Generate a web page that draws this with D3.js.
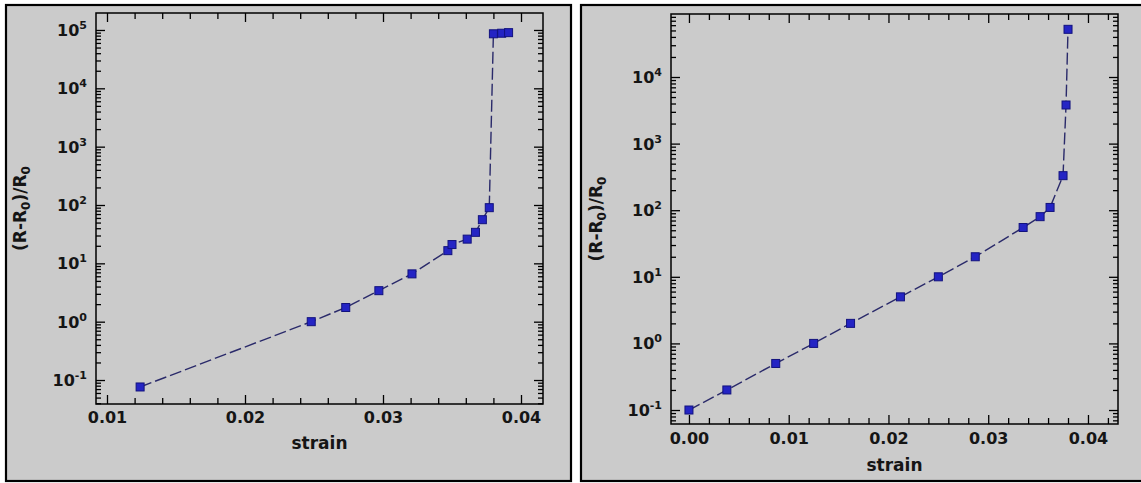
<!DOCTYPE html>
<html>
<head>
<meta charset="utf-8">
<script src="https://cdn.jsdelivr.net/npm/d3@7"></script>
<style>
  body { margin: 0; background: #ffffff; }
  svg { display: block; }
  text { font-family: "DejaVu Sans", sans-serif; font-weight: bold; fill: #151515; }
</style>
</head>
<body>
<svg id="chart" width="1141" height="483"></svg>
<script>
// Left test: resistance change vs. strain (starts at 1.2 % strain)
const leftStrain = [0.0124, 0.0248, 0.0273, 0.0297, 0.0321, 0.0347, 0.0350, 0.0361, 0.0367, 0.0372, 0.0377, 0.0380, 0.0386, 0.0391];
const leftRatio  = [0.076, 1.0, 1.75, 3.4, 6.6, 16.5, 21, 26, 34, 56, 90, 86000, 88000, 90000];

// Right test: resistance change vs. strain (starts at zero strain)
const rightStrain = [0.0000, 0.0038, 0.0087, 0.0125, 0.0162, 0.0212, 0.0250, 0.0287, 0.0335, 0.0352, 0.0362, 0.0375, 0.0378, 0.0380];
const rightRatio  = [0.1, 0.2, 0.5, 1.0, 2.0, 5.0, 10, 20, 55, 80, 110, 330, 3800, 52000];

// Axis ticks
const leftXTicks   = [0.01, 0.02, 0.03, 0.04];
const leftXLabels  = ["0.01", "0.02", "0.03", "0.04"];
const rightXTicks  = [0.00, 0.01, 0.02, 0.03, 0.04];
const rightXLabels = ["0.00", "0.01", "0.02", "0.03", "0.04"];
const leftDecades  = [-1, 0, 1, 2, 3, 4, 5];
const rightDecades = [-1, 0, 1, 2, 3, 4];
const xMinorStep = 0.002;
const xTitle = "strain";

const svg = d3.select("#chart");

const panels = [
  {
    box: [6, 5, 565, 476],
    plot: { left: 96, right: 543, top: 13, bottom: 404 },
    xDomain: [0.009203, 0.041594],
    yDomain: [Math.pow(10, -1.411), Math.pow(10, 5.291)],
    strain: leftStrain, ratio: leftRatio,
    xTicks: leftXTicks, xLabels: leftXLabels, decades: leftDecades,
    labelPad: 8, xTitleY: 449, yTitleX: 26
  },
  {
    box: [581, 5, 565, 476],
    plot: { left: 671, right: 1118, top: 14, bottom: 424 },
    xDomain: [-0.0018, 0.04301],
    yDomain: [Math.pow(10, -1.21), Math.pow(10, 4.946)],
    strain: rightStrain, ratio: rightRatio,
    xTicks: rightXTicks, xLabels: rightXLabels, decades: rightDecades,
    labelPad: 9, xTitleY: 471, yTitleX: 602
  }
];

function drawPanel(p) {
  const g = svg.append("g");
  const { left, right, top, bottom } = p.plot;

  // Panel frame
  g.append("rect")
    .attr("x", p.box[0]).attr("y", p.box[1])
    .attr("width", p.box[2]).attr("height", p.box[3])
    .attr("fill", "#cbcbcb").attr("stroke", "#000").attr("stroke-width", 2.2);

  const x = d3.scaleLinear().domain(p.xDomain).range([left, right]);
  const y = d3.scaleLog().domain(p.yDomain).range([bottom, top]);

  // Minor tick values
  const [x0, x1] = p.xDomain;
  const xMinor = d3.range(Math.ceil(x0 / xMinorStep), Math.floor(x1 / xMinorStep) + 1)
    .map(i => +(i * xMinorStep).toFixed(4))
    .filter(v => !p.xTicks.some(t => Math.abs(t - v) < 1e-9));
  const yMinor = [];
  const lo = Math.floor(Math.log10(p.yDomain[0])), hi = Math.ceil(Math.log10(p.yDomain[1]));
  for (let d = lo; d <= hi; d++) {
    for (let m = 2; m <= 9; m++) {
      const v = m * Math.pow(10, d);
      if (v >= p.yDomain[0] && v <= p.yDomain[1]) yMinor.push(v);
    }
  }
  const yMajor = p.decades.map(d => Math.pow(10, d));

  function styleAxis(sel) {
    sel.select(".domain").remove();
    sel.selectAll(".tick line").attr("stroke", "#000").attr("stroke-width", 1.3);
  }

  // Bottom axis (inward ticks, labelled)
  g.append("g").attr("transform", `translate(0,${bottom})`)
    .call(d3.axisBottom(x).tickValues(p.xTicks).tickSizeInner(-9).tickSizeOuter(0)
      .tickPadding(p.labelPad).tickFormat((d, i) => p.xLabels[i]))
    .call(styleAxis)
    .call(s => s.selectAll("text").attr("font-size", 16).attr("font-family", null).attr("fill", "#151515"));
  g.append("g").attr("transform", `translate(0,${bottom})`)
    .call(d3.axisBottom(x).tickValues(xMinor).tickSizeInner(-6).tickSizeOuter(0).tickFormat(""))
    .call(styleAxis);

  // Top axis (inward ticks, no labels)
  g.append("g").attr("transform", `translate(0,${top})`)
    .call(d3.axisTop(x).tickValues(p.xTicks).tickSizeInner(-9).tickSizeOuter(0).tickFormat(""))
    .call(styleAxis);
  g.append("g").attr("transform", `translate(0,${top})`)
    .call(d3.axisTop(x).tickValues(xMinor).tickSizeInner(-6).tickSizeOuter(0).tickFormat(""))
    .call(styleAxis);

  // Left and right log axes (inward ticks)
  [[d3.axisLeft, left], [d3.axisRight, right]].forEach(([axisFn, pos]) => {
    g.append("g").attr("transform", `translate(${pos},0)`)
      .call(axisFn(y).tickValues(yMajor).tickSizeInner(-9).tickSizeOuter(0).tickFormat(""))
      .call(styleAxis);
    g.append("g").attr("transform", `translate(${pos},0)`)
      .call(axisFn(y).tickValues(yMinor).tickSizeInner(-5).tickSizeOuter(0).tickFormat(""))
      .call(styleAxis);
  });

  // Plot frame
  g.append("rect")
    .attr("x", left).attr("y", top)
    .attr("width", right - left).attr("height", bottom - top)
    .attr("fill", "none").attr("stroke", "#000").attr("stroke-width", 1.5);

  // Decade labels: 10 with superscript exponent
  const yl = g.selectAll(".ylab").data(p.decades).join("text")
    .attr("class", "ylab")
    .attr("x", left - 9)
    .attr("y", d => y(Math.pow(10, d)) + 6)
    .attr("text-anchor", "end")
    .attr("font-size", 16);
  yl.append("tspan").text("10");
  yl.append("tspan").attr("dy", -7).attr("font-size", 11).text(d => String(d));

  // Axis titles
  g.append("text")
    .attr("x", (left + right) / 2).attr("y", p.xTitleY)
    .attr("text-anchor", "middle").attr("font-size", 17)
    .text(xTitle);

  const yt = g.append("text")
    .attr("transform", `translate(${p.yTitleX},${(top + bottom) / 2}) rotate(-90)`)
    .attr("text-anchor", "middle").attr("font-size", 17);
  yt.append("tspan").text("(R-R");
  yt.append("tspan").attr("font-size", 12).attr("dy", 4).text("0");
  yt.append("tspan").attr("dy", -4).text(")/R");
  yt.append("tspan").attr("font-size", 12).attr("dy", 4).text("0");

  // Data: dashed connecting line and square markers
  const pts = p.strain.map((s, i) => [s, p.ratio[i]]);
  g.append("path")
    .datum(pts)
    .attr("fill", "none")
    .attr("stroke", "#2a2a6a")
    .attr("stroke-width", 1.4)
    .attr("stroke-dasharray", "12,4")
    .attr("d", d3.line().x(d => x(d[0])).y(d => y(d[1])));

  const sz = 8;
  g.selectAll(".pt").data(pts).join("rect")
    .attr("class", "pt")
    .attr("x", d => x(d[0]) - sz / 2)
    .attr("y", d => y(d[1]) - sz / 2)
    .attr("width", sz).attr("height", sz)
    .attr("fill", "#2424c4")
    .attr("stroke", "#12127e").attr("stroke-width", 1);
}

panels.forEach(drawPanel);
</script>
</body>
</html>
